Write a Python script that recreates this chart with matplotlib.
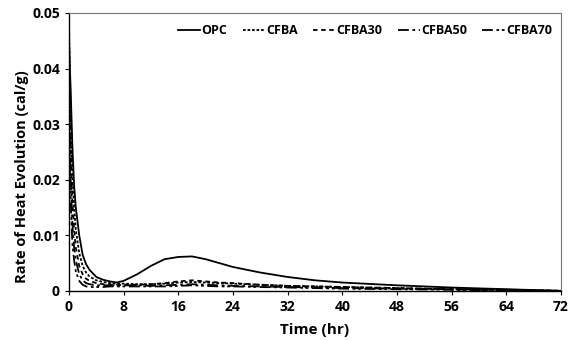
import matplotlib
matplotlib.use("Agg")
import matplotlib.pyplot as plt

plt.rcParams['font.family'] = ['Open Sans', 'DejaVu Sans']

time_hr = [0, 0.25, 0.5, 0.75, 1, 1.5, 2, 2.5, 3, 4, 5, 6, 7, 8, 10, 12, 14, 16,
           18, 20, 22, 24, 28, 32, 36, 40, 48, 56, 64, 72]

opc = [0.045, 0.036, 0.026, 0.019, 0.015, 0.010, 0.0065, 0.0048, 0.0038, 0.0025,
       0.0020, 0.0017, 0.0015, 0.0018, 0.0030, 0.0045, 0.0057, 0.0061, 0.0062,
       0.0057, 0.0050, 0.0043, 0.0033, 0.0025, 0.0019, 0.0015, 0.0010, 0.0006,
       0.0003, 0.0]
cfba = [0.048, 0.032, 0.021, 0.015, 0.011, 0.0068, 0.0045, 0.0033, 0.0026, 0.0019,
        0.0016, 0.0014, 0.0013, 0.0013, 0.0012, 0.0012, 0.0013, 0.0015, 0.0016,
        0.0015, 0.0014, 0.0013, 0.0011, 0.0009, 0.0008, 0.0007, 0.0005, 0.0003,
        0.0002, 0.0]
cfba30 = [0.040, 0.026, 0.016, 0.011, 0.0078, 0.0045, 0.0030, 0.0022, 0.0018, 0.0014,
          0.0012, 0.0011, 0.0011, 0.0011, 0.0011, 0.0012, 0.0014, 0.0017, 0.0019,
          0.0017, 0.0015, 0.0014, 0.0011, 0.0009, 0.0008, 0.0007, 0.0005, 0.0003,
          0.0002, 0.0]
cfba50 = [0.035, 0.020, 0.012, 0.0078, 0.0055, 0.0030, 0.0019, 0.0014, 0.0012, 0.0010,
          0.0010, 0.0010, 0.0010, 0.0010, 0.0010, 0.0009, 0.0010, 0.0011, 0.0012,
          0.0011, 0.0010, 0.0009, 0.0008, 0.0007, 0.0006, 0.0005, 0.0004, 0.0003,
          0.0001, 0.0]
cfba70 = [0.030, 0.016, 0.0085, 0.0055, 0.0035, 0.0018, 0.0011, 0.0008, 0.0007, 0.0007,
          0.0007, 0.0008, 0.0008, 0.0008, 0.0008, 0.0008, 0.0008, 0.0009, 0.0010,
          0.0009, 0.0008, 0.0008, 0.0007, 0.0006, 0.0005, 0.0004, 0.0003, 0.0002,
          0.0001, 0.0]

series_names = ['OPC', 'CFBA', 'CFBA30', 'CFBA50', 'CFBA70']
series_values = [opc, cfba, cfba30, cfba50, cfba70]
styles = ['-', (0, (1.5, 1)), (0, (2.5, 2)), (0, (6, 2, 1.5, 2)), (0, (6, 2, 1.5, 1.5, 1.5, 2))]

xticks = [0, 8, 16, 24, 32, 40, 48, 56, 64, 72]
yticks = [0, 0.01, 0.02, 0.03, 0.04, 0.05]
ytick_labels = ['0', '0.01', '0.02', '0.03', '0.04', '0.05']

fig = plt.figure(figsize=(5.7, 3.41), dpi=100)
ax = fig.add_axes([0.121, 0.147, 0.863, 0.815])

for name, vals, ls in zip(series_names, series_values, styles):
    ax.plot(time_hr, vals, color='black', linestyle=ls, linewidth=1.3, label=name)

ax.set_xlim(0, 72)
ax.set_ylim(0, 0.05)
ax.set_xticks(xticks)
ax.set_xticklabels([str(v) for v in xticks])
ax.set_yticks(yticks)
ax.set_yticklabels(ytick_labels)
ax.tick_params(direction='out', length=3, width=0.8, labelsize=10)
for lab in ax.get_xticklabels() + ax.get_yticklabels():
    lab.set_fontweight('bold')

for s in ['top', 'right']:
    ax.spines[s].set_color('#777777')
    ax.spines[s].set_linewidth(0.8)
for s in ['left', 'bottom']:
    ax.spines[s].set_color('black')
    ax.spines[s].set_linewidth(1.0)

ax.set_xlabel('Time (hr)', fontsize=11, fontweight='bold')
ax.set_ylabel('Rate of Heat Evolution (cal/g)', fontsize=10.5, fontweight='bold')
ax.xaxis.set_label_coords(0.5, -0.115)
ax.yaxis.set_label_coords(-0.082, 0.41)

leg = ax.legend(loc='upper right', ncol=5, frameon=False, fontsize=9,
                handlelength=1.8, handletextpad=0.1, columnspacing=1.2,
                bbox_to_anchor=(1.0, 0.99), borderaxespad=0.3)
for t in leg.get_texts():
    t.set_fontweight('bold')

fig.savefig('out.png', dpi=100)
